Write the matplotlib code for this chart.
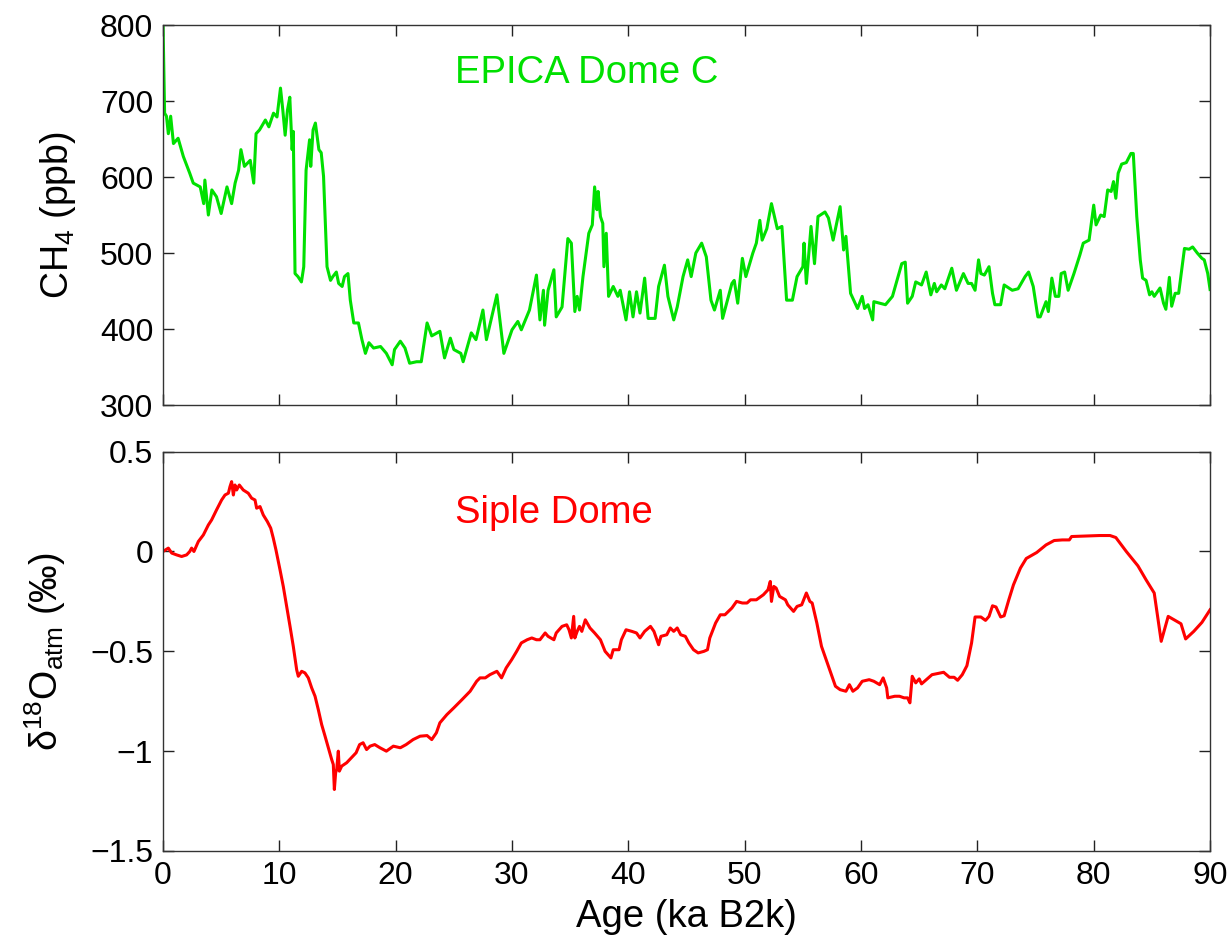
import matplotlib
matplotlib.use("Agg")
import matplotlib.pyplot as plt

plt.rcParams['font.family'] = ['Liberation Sans', 'DejaVu Sans']
plt.rcParams['mathtext.fontset'] = 'custom'
plt.rcParams['mathtext.rm'] = 'Liberation Sans'
plt.rcParams['mathtext.it'] = 'Liberation Sans:italic'
plt.rcParams['mathtext.bf'] = 'Liberation Sans:bold'

# EPICA Dome C methane (age ka B2k, ppb)
ch4_age = [0.0, 0.14, 0.3, 0.46, 0.66, 0.9, 1.3, 1.75, 2.3, 2.6, 3.2, 3.5, 3.6, 3.9,
           4.2, 4.6, 5.0, 5.5, 5.9, 6.2, 6.5, 6.7, 7.0, 7.5, 7.8, 8.0, 8.3, 8.8, 9.1,
           9.5, 9.8, 10.1, 10.3, 10.5, 10.7, 10.9, 11.1, 11.2, 11.35, 11.6, 11.9, 12.1,
           12.3, 12.6, 12.7, 12.9, 13.1, 13.4, 13.6, 13.8, 14.1, 14.4, 14.6, 14.9,
           15.1, 15.4, 15.6, 15.9, 16.1, 16.4, 16.8, 17.1, 17.4, 17.7, 18.1, 18.7,
           19.2, 19.7, 19.9, 20.4, 20.8, 21.2, 21.8, 22.2, 22.7, 23.1, 23.8, 24.2,
           24.7, 25.0, 25.6, 25.8, 26.5, 26.9, 27.5, 27.8, 28.7, 29.3, 30.0, 30.5,
           30.8, 31.5, 32.1, 32.4, 32.7, 32.8, 33.1, 33.6, 33.8, 34.3, 34.8, 35.1,
           35.4, 35.6, 35.8, 36.1, 36.6, 36.9, 37.1, 37.3, 37.4, 37.6, 37.8, 37.9,
           38.1, 38.3, 38.7, 39.1, 39.3, 39.8, 40.1, 40.4, 40.7, 41.0, 41.4, 41.7,
           42.3, 42.6, 43.1, 43.4, 43.9, 44.2, 44.7, 45.1, 45.4, 45.8, 46.3, 46.7,
           47.1, 47.4, 47.9, 48.1, 48.9, 49.1, 49.4, 49.8, 50.1, 50.7, 51.0, 51.3,
           51.5, 51.9, 52.3, 52.8, 53.2, 53.6, 54.1, 54.5, 55.0, 55.1, 55.3, 55.7,
           56.0, 56.3, 56.9, 57.2, 57.6, 58.2, 58.5, 58.7, 59.1, 59.7, 60.1, 60.3,
           60.6, 61.0, 61.1, 62.1, 62.7, 63.5, 63.8, 64.0, 64.4, 64.7, 65.2, 65.6,
           66.0, 66.3, 66.5, 66.9, 67.2, 67.8, 68.2, 68.8, 69.2, 69.5, 69.8, 70.1,
           70.3, 70.6, 71.0, 71.3, 71.5, 72.0, 72.3, 73.0, 73.5, 74.1, 74.4, 74.8,
           75.2, 75.4, 75.9, 76.1, 76.4, 76.7, 77.0, 77.2, 77.5, 77.8, 78.3, 78.8,
           79.1, 79.6, 80.0, 80.2, 80.6, 80.9, 81.2, 81.5, 81.7, 81.9, 82.1, 82.4,
           82.8, 83.2, 83.4, 83.7, 84.0, 84.2, 84.5, 84.8, 85.0, 85.2, 85.7, 86.0,
           86.2, 86.5, 86.7, 87.0, 87.3, 87.8, 88.2, 88.5, 88.9, 89.3, 89.5, 89.8,
           90.0]
ch4_ppb = [805, 684, 680, 657, 680, 644, 651, 627, 605, 592, 587, 565, 596, 550,
           583, 574, 552, 587, 565, 592, 609, 636, 614, 622, 592, 657, 662, 675, 666,
           684, 679, 717, 688, 655, 688, 705, 636, 660, 473, 469, 462, 482,
           609, 649, 614, 662, 671, 636, 632, 601, 482, 464, 469, 475,
           460, 456, 469, 473, 438, 408, 408, 386, 368, 382, 375, 377,
           368, 353, 373, 384, 375, 355, 357, 357, 408, 391, 397, 362,
           388, 373, 368, 357, 395, 386, 425, 386, 445, 368, 399, 410,
           399, 425, 471, 412, 451, 405, 451, 478, 416, 429, 519, 513,
           423, 443, 425, 469, 526, 537, 587, 557, 581, 548, 539, 482,
           526, 443, 456, 443, 451, 412, 449, 416, 449, 421, 467, 414,
           414, 456, 484, 443, 412, 429, 469, 491, 469, 500, 513, 495,
           438, 425, 451, 414, 460, 464, 434, 493, 469, 500, 513, 543,
           517, 532, 565, 532, 535, 438, 438, 469, 482, 513, 460, 535,
           486, 548, 554, 546, 517, 561, 504, 522, 447, 427, 443, 427,
           432, 412, 436, 432, 443, 486, 488, 434, 443, 462, 458, 475,
           445, 460, 449, 458, 453, 480, 451, 473, 460, 460, 451, 491,
           473, 471, 482, 447, 432, 432, 458, 451, 453, 469, 475, 456,
           416, 416, 436, 423, 467, 443, 443, 473, 475, 451, 473, 497,
           513, 517, 563, 537, 550, 548, 583, 581, 594, 572, 605, 617,
           619, 631, 631, 548, 491, 467, 464, 445, 449, 443, 454, 434,
           426, 468, 430, 447, 447, 506, 505, 508, 500, 493, 491, 473,
           452]

# Siple Dome d18O of O2 (age ka B2k, permil)
d18o_age = [0.0, 0.46, 0.75, 1.17, 1.6, 2.03, 2.3, 2.46, 2.66, 3.04, 3.47, 3.9, 4.18,
            4.6, 5.04, 5.33, 5.62, 5.76, 5.9, 6.05, 6.19, 6.33, 6.56, 6.9, 7.33, 7.62,
            7.91, 8.05, 8.34, 8.62, 8.97, 9.26, 9.48, 9.71, 10.06, 10.34, 10.63, 10.92,
            11.2, 11.49, 11.63, 11.92, 12.2, 12.49, 12.78, 13.07, 13.35, 13.64, 13.93,
            14.21, 14.5, 14.64, 14.73, 14.84, 14.93, 15.07, 15.16, 15.36, 15.79, 16.2,
            16.6, 16.9, 17.2, 17.5, 17.8, 18.2, 18.65, 19.2, 19.8, 20.4, 20.9, 21.5,
            22.1, 22.7, 23.1, 23.5, 23.8, 24.4, 25.0, 25.7, 26.4, 26.96, 27.25, 27.7,
            28.1, 28.7, 29.1, 29.5, 29.97, 30.4, 30.8, 31.3, 31.7, 32.1, 32.4, 32.85,
            33.1, 33.6, 33.8, 34.3, 34.7, 34.9, 35.1, 35.3, 35.4, 35.6, 35.8, 36.0,
            36.3, 36.7, 37.1, 37.6, 38.0, 38.5, 38.7, 39.2, 39.4, 39.8, 40.3, 40.7,
            41.0, 41.4, 41.9, 42.2, 42.6, 42.8, 43.3, 43.6, 43.9, 44.2, 44.5, 44.9,
            45.2, 45.6, 46.0, 46.5, 46.8, 47.0, 47.5, 47.9, 48.3, 48.9, 49.3, 49.8,
            50.2, 50.5, 51.0, 51.6, 52.0, 52.2, 52.3, 52.5, 52.7, 53.0, 53.5, 53.7,
            54.2, 54.5, 54.9, 55.3, 55.6, 55.8, 56.2, 56.6, 57.1, 57.5, 57.8, 58.2,
            58.7, 59.0, 59.3, 59.7, 60.1, 60.7, 61.1, 61.6, 61.9, 62.2, 62.3, 62.9,
            63.3, 63.7, 64.0, 64.2, 64.4, 64.7, 65.0, 65.2, 66.1, 67.1, 67.6, 68.0,
            68.3, 68.7, 69.1, 69.5, 69.8, 70.3, 70.7, 71.0, 71.3, 71.6, 72.0, 72.3,
            72.7, 73.1, 73.7, 74.2, 75.1, 75.9, 76.6, 77.3, 77.9, 78.1, 79.4, 80.5,
            81.4, 81.9, 82.8, 83.8, 84.5, 85.2, 85.8, 86.4, 87.0, 87.5, 87.9, 88.6,
            89.3, 90.0]
d18o_val = [0.0, 0.017, -0.008, -0.017, -0.025, -0.017, 0.0, 0.017, 0.0, 0.05, 0.083,
            0.133, 0.158, 0.208, 0.258, 0.283, 0.292, 0.325, 0.35, 0.283, 0.333, 0.308,
            0.333, 0.308, 0.292, 0.267, 0.258, 0.217, 0.225, 0.183, 0.15, 0.117, 0.067,
            0.008, -0.092, -0.175, -0.275, -0.375, -0.475, -0.592, -0.625, -0.6, -0.608,
            -0.633, -0.683, -0.725, -0.792, -0.867, -0.925, -0.983, -1.042, -1.067,
            -1.192, -1.108, -1.092, -1.0, -1.1, -1.075, -1.058, -1.033, -1.008, -0.967,
            -0.958, -0.992, -0.975, -0.967, -0.983, -1.0, -0.975, -0.983, -0.967,
            -0.942, -0.925, -0.922, -0.942, -0.908, -0.858, -0.817, -0.783, -0.742,
            -0.7, -0.65, -0.633, -0.633, -0.617, -0.6, -0.633, -0.583, -0.542, -0.5,
            -0.458, -0.442, -0.433, -0.442, -0.442, -0.408, -0.425, -0.442, -0.408,
            -0.375, -0.367, -0.392, -0.433, -0.325, -0.433, -0.4, -0.375, -0.4, -0.342,
            -0.383, -0.408, -0.442, -0.5, -0.533, -0.492, -0.492, -0.442, -0.392, -0.4,
            -0.408, -0.433, -0.4, -0.375, -0.4, -0.467, -0.425, -0.417, -0.383, -0.4,
            -0.383, -0.417, -0.425, -0.458, -0.492, -0.508, -0.5, -0.492, -0.433,
            -0.358, -0.317, -0.317, -0.283, -0.25, -0.258, -0.258, -0.242, -0.242,
            -0.217, -0.192, -0.15, -0.25, -0.175, -0.183, -0.225, -0.242, -0.267, -0.3,
            -0.275, -0.267, -0.208, -0.25, -0.258, -0.358, -0.475, -0.558, -0.625,
            -0.675, -0.692, -0.7, -0.667, -0.7, -0.683, -0.65, -0.642, -0.65, -0.667,
            -0.633, -0.683, -0.733, -0.725, -0.725, -0.733, -0.733, -0.758, -0.625,
            -0.658, -0.638, -0.663, -0.617, -0.605, -0.63, -0.63, -0.645, -0.617,
            -0.572, -0.458, -0.328, -0.328, -0.345, -0.325, -0.272, -0.278, -0.328,
            -0.322, -0.242, -0.167, -0.083, -0.035, -0.005, 0.033, 0.055, 0.058, 0.058,
            0.075, 0.078, 0.08, 0.08, 0.07, 0.0, -0.072, -0.142, -0.208, -0.45, -0.325,
            -0.345, -0.362, -0.438, -0.4, -0.355, -0.292]

x_ticks = [0, 10, 20, 30, 40, 50, 60, 70, 80, 90]
ch4_ticks = [300, 400, 500, 600, 700, 800]
d18o_ticks = [-1.5, -1, -0.5, 0, 0.5]
d18o_ticklabels = ['\u22121.5', '\u22121', '\u22120.5', '0', '0.5']

fig = plt.figure(figsize=(12.31, 9.40), dpi=100)
ax1 = fig.add_axes([0.1324, 0.5691, 0.8506, 0.4043])
ax2 = fig.add_axes([0.1324, 0.0947, 0.8506, 0.4248])

ax1.plot(ch4_age, ch4_ppb, color='#00e000', lw=2.2)
ax2.plot(d18o_age, d18o_val, color='#ff0000', lw=2.2)

for ax in (ax1, ax2):
    ax.set_xlim(0, 90)
    ax.set_xticks(x_ticks)
    ax.tick_params(direction='in', length=8, width=1, top=True, right=True,
                   labelsize=23, pad=7, colors='#222222', labelcolor='black')
    for s in ax.spines.values():
        s.set_color('#333333')
        s.set_linewidth(1.0)

ax1.set_ylim(300, 800)
ax1.set_yticks(ch4_ticks)
ax1.tick_params(labelbottom=False)
ax1.set_ylabel('CH$_4$ (ppb)', fontsize=27)
ax1.yaxis.set_label_coords(-0.081, 0.5)
ax1.text(25.1, 724, 'EPICA Dome C', color='#00e000', fontsize=27.5, va='baseline')

ax2.set_ylim(-1.5, 0.5)
ax2.set_yticks(d18o_ticks)
ax2.set_yticklabels(d18o_ticklabels)
ax2.set_xlabel('Age (ka B2k)', fontsize=27.5, labelpad=6)
ax2.set_ylabel('\u03b4$^{18}$O$_{\\mathrm{atm}}$ (\u2030)', fontsize=27)
ax2.yaxis.set_label_coords(-0.091, 0.5)
ax2.text(25.1, 0.143, 'Siple Dome', color='#ff0000', fontsize=27.5, va='baseline')

fig.savefig('out.png', dpi=100)
